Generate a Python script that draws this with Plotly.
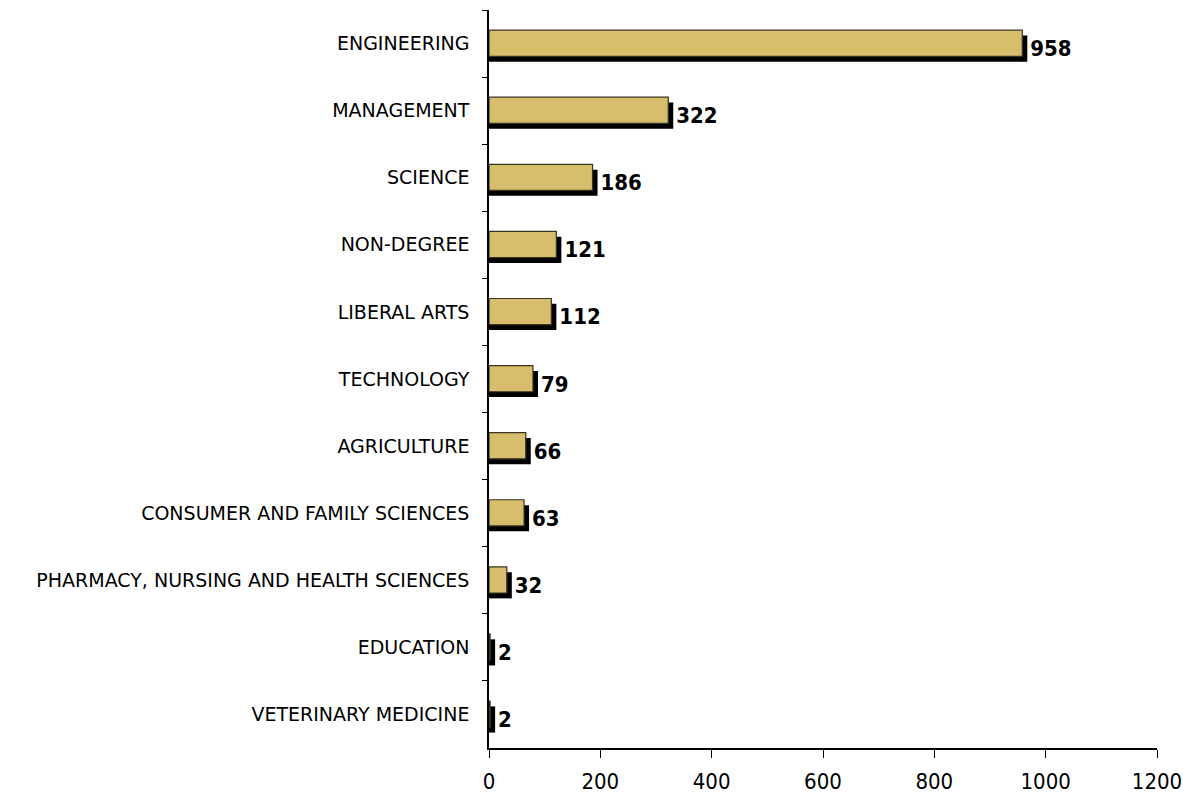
import plotly.graph_objects as go

categories = ["ENGINEERING", "MANAGEMENT", "SCIENCE", "NON-DEGREE", "LIBERAL ARTS",
              "TECHNOLOGY", "AGRICULTURE", "CONSUMER AND FAMILY SCIENCES",
              "PHARMACY, NURSING AND HEALTH SCIENCES", "EDUCATION", "VETERINARY MEDICINE"]
values = [958, 322, 186, 121, 112, 79, 66, 63, 32, 2, 2]
x_ticks = [0, 200, 400, 600, 800, 1000, 1200]

shadow_shift = 9  # data units of the drop-shadow offset to the right
shadow_values = [v + shadow_shift for v in values]

narrow = "DejaVu Sans Condensed, Liberation Sans Narrow, Arial Narrow, Liberation Sans, Arial"

fig = go.Figure()
fig.add_trace(go.Bar(
    y=categories, x=shadow_values, orientation="h",
    width=0.39, offset=-0.12,
    marker=dict(color="#000000", line=dict(width=0)),
    text=[str(v) for v in values], textposition="outside",
    textfont=dict(family=narrow, size=22, color="#000000", weight="bold"),
    cliponaxis=False, hoverinfo="skip", showlegend=False,
))
fig.add_trace(go.Bar(
    y=categories, x=values, orientation="h",
    width=0.39, offset=-0.2,
    marker=dict(color="#D8BE6C", line=dict(color="#3a3320", width=1.2)),
    showlegend=False,
))

fig.update_layout(
    width=1190, height=800,
    barmode="overlay",
    plot_bgcolor="white", paper_bgcolor="white",
    margin=dict(l=481, r=41, t=2, b=60),
    font=dict(family="DejaVu Sans, Liberation Sans, Arial", color="#000000"),
    xaxis=dict(range=[0, 1200], tickvals=x_ticks, ticks="outside", ticklen=8, tickcolor="#000",
               showline=True, linecolor="#000", linewidth=1.5, showgrid=False, zeroline=False,
               tickfont=dict(family=narrow, size=22), ticklabelstandoff=5),
    yaxis=dict(autorange="reversed", type="category", ticks="outside", ticklen=5, tickcolor="#000",
               tickson="boundaries", showline=True, linecolor="#000", linewidth=1.5, showgrid=False,
               tickfont=dict(family="DejaVu Sans, Liberation Sans, Arial", size=19), ticklabelstandoff=14),
)

fig.write_html("out.html")
